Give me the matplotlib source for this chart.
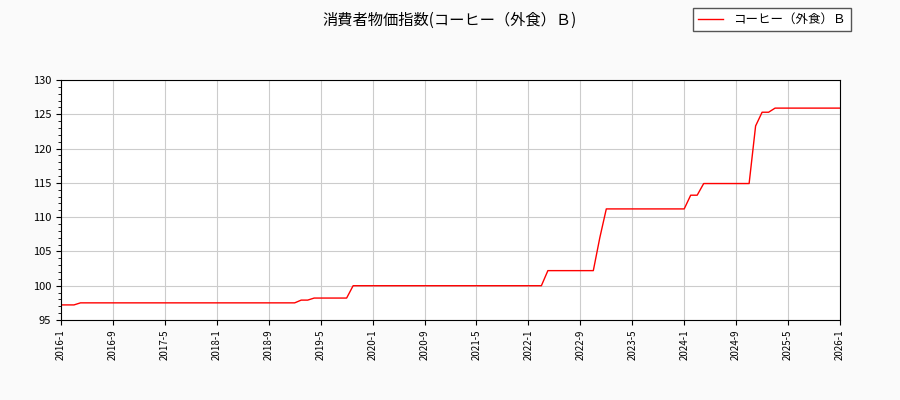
import matplotlib
matplotlib.use("Agg")
import matplotlib.pyplot as plt
import pandas as pd

plt.rcParams['font.family'] = ['Noto Sans CJK JP', 'DejaVu Sans']

months = pd.date_range("2016-01-01", "2026-01-01", freq="MS")
# value segments, one per month
values = ([97.2]*3 + [97.5]*34 + [97.9]*2 + [98.2]*6 + [100.0]*30
          + [102.2]*8 + [107.0] + [111.2]*13 + [113.2]*2 + [114.9]*8
          + [123.3] + [125.3]*2 + [125.9]*11)
values = values[:len(months)] + [values[-1]]*(len(months)-len(values))

tick_labels = [f"{d.year}-{d.month}" for d in pd.date_range("2016-01-01", "2026-01-01", freq="8MS")]
tick_pos = list(range(0, 121, 8))

fig = plt.figure(figsize=(9, 4), dpi=100, facecolor="#fafafa")
ax = fig.add_axes([61/900, 80/400, 779/900, 240/400])
ax.set_facecolor("#ffffff")
x = list(range(len(months)))
ax.plot(x, values, color="red", lw=1, label="コーヒー（外食）Ｂ")
ax.set_xlim(0, 120)
ax.set_ylim(95, 130)
ax.set_yticks(range(95, 131, 5))
ax.set_xticks(tick_pos)
ax.set_xticklabels(tick_labels, rotation=90, fontsize=7)
ax.tick_params(axis='y', labelsize=8)
ax.yaxis.set_minor_locator(matplotlib.ticker.MultipleLocator(1))
ax.grid(True, which='major', color="#cccccc", lw=0.8)
ax.set_axisbelow(True)
fig.suptitle("消費者物価指数(コーヒー（外食）Ｂ)", x=0.5, y=0.97, fontsize=11)
fig.legend(loc="upper right", bbox_to_anchor=(0.952, 0.995), fontsize=9,
           fancybox=False, edgecolor="#555555", framealpha=1)
fig.savefig("out.png", dpi=100, facecolor=fig.get_facecolor())
